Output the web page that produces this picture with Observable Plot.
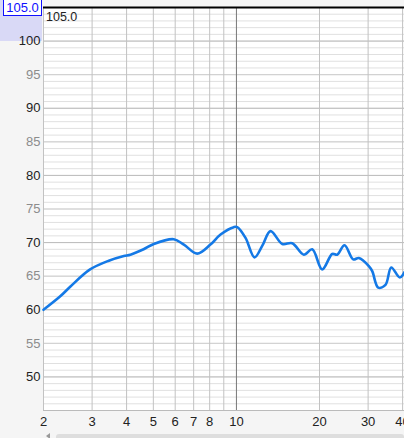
<!DOCTYPE html>
<html><head><meta charset="utf-8">
<script src="https://cdn.jsdelivr.net/npm/d3@7"></script>
<script src="https://cdn.jsdelivr.net/npm/@observablehq/plot@0.6"></script>
<style>
html,body{margin:0;padding:0;background:#f5f5f5;overflow:hidden;}
#wrap{position:relative;width:404px;height:438px;font-family:"Liberation Sans",Arial,sans-serif;}
#wrap svg{position:absolute;left:0;top:0;}
#sel{position:absolute;left:0;top:0;width:42px;height:41px;background:#d9d9f6;}
#box{position:absolute;left:3px;top:-1px;width:37px;height:15px;border:1px solid #1010ff;background:#fff;color:#1010ff;font-size:13px;line-height:16px;text-align:center;}
#inner{position:absolute;left:46px;top:10px;font-size:12.5px;color:#222;}
#arrow{position:absolute;left:46px;top:433px;width:0;height:0;border-top:3px solid transparent;border-bottom:3px solid transparent;border-right:4px solid #999;}
#scroll{position:absolute;left:56px;top:434px;width:348px;height:6px;background:#dedede;border-radius:3px;}
</style></head>
<body>
<div id="wrap"><div id="sel"></div></div>
<script>
const freq = [2, 2.30, 2.51, 2.95, 3.45, 3.91, 4.13, 4.61, 5.02, 5.93, 6.45, 7.21, 8.05, 8.76, 9.78, 10.07, 10.79, 11.63, 12.40, 13.29, 14.66, 15.93, 17.54, 18.82, 20.45, 22.24, 23.18, 24.64, 26.5, 27.77, 30.18, 31.05, 32.64, 34.68, 36.38, 39.08, 40.64];
const spl  = [60.0, 62.0, 63.5, 66.0, 67.3, 68.0, 68.2, 69.0, 69.8, 70.5, 69.7, 68.35, 69.7, 71.2, 72.3, 72.3, 70.7, 67.8, 69.5, 71.7, 69.8, 69.9, 68.2, 69.0, 66.0, 68.3, 68.2, 69.6, 67.5, 67.7, 66.5, 65.75, 63.3, 63.7, 66.3, 64.8, 65.6];
const xGrid = [2, 3, 4, 5, 6, 7, 8, 9, 20, 30, 40];
const xDecade = [10];
const xLabels = [2, 3, 4, 5, 6, 7, 8, 10, 20, 30, 40];
const yMajor = [50, 60, 70, 80, 90, 100];
const yMid = [55, 65, 75, 85, 95];
const yMinor = d3.range(45, 106);
const topLabel = "105.0";

const data = freq.map((f, i) => ({f, db: spl[i]}));

const chart = Plot.plot({
  width: 404, height: 438,
  marginLeft: 43, marginRight: 0, marginTop: 7, marginBottom: 28,
  style: {background: "transparent", fontFamily: "Liberation Sans, Arial, sans-serif", fontSize: "13px", overflow: "hidden"},
  x: {type: "log", domain: [2, 40.64], axis: null},
  y: {domain: [45, 105], axis: null},
  marks: [
    Plot.frame({fill: "white", stroke: null}),
    Plot.ruleY(yMinor, {stroke: "#e0e0e0"}),
    Plot.ruleY(yMid, {stroke: "#cfcfcf"}),
    Plot.ruleY(yMajor, {stroke: "#bcbcbc"}),
    Plot.ruleX(xGrid, {stroke: "#c2c2c2"}),
    Plot.ruleX(xDecade, {stroke: "#777"}),
    Plot.ruleY([45], {stroke: "#bbb"}),
    Plot.ruleY([105], {stroke: "#000", strokeWidth: 2}),
    Plot.text(yMajor, {y: d => d, frameAnchor: "left", textAnchor: "end", dx: -3, fill: "#222"}),
    Plot.text(yMid, {y: d => d, frameAnchor: "left", textAnchor: "end", dx: -3, fill: "#8c8c8c"}),
    Plot.text(xLabels, {x: d => d, frameAnchor: "bottom", lineAnchor: "top", dy: 6, fill: "#222"}),
    Plot.line(data, {x: "f", y: "db", stroke: "#1479e6", strokeWidth: 2.6, curve: "catmull-rom"})
  ]
});
const wrap = document.getElementById("wrap");
wrap.appendChild(chart);
const box = document.createElement("div"); box.id = "box"; box.textContent = topLabel; wrap.appendChild(box);
const inner = document.createElement("div"); inner.id = "inner"; inner.textContent = topLabel; wrap.appendChild(inner);
const arrow = document.createElement("div"); arrow.id = "arrow"; wrap.appendChild(arrow);
const sc = document.createElement("div"); sc.id = "scroll"; wrap.appendChild(sc);
</script>
</body></html>
